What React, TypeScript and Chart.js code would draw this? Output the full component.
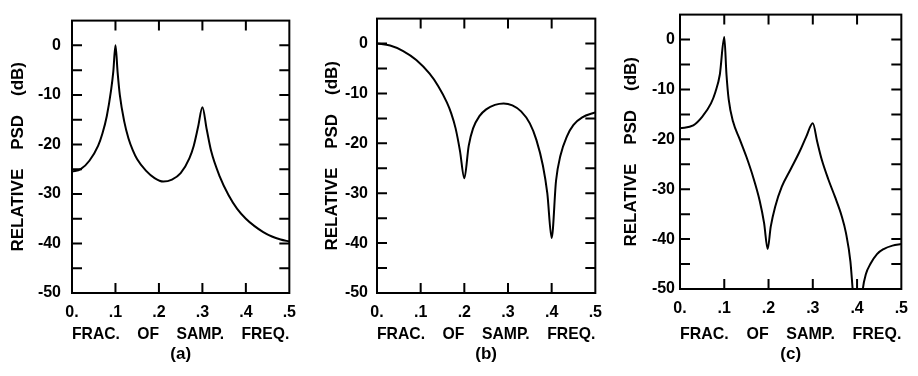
import React, { useEffect, useRef } from 'react';
import { Chart, registerables } from 'chart.js';

Chart.register(...registerables);

// ---- data ----
const aFreq = [0, 0.02, 0.04, 0.06, 0.07, 0.08, 0.09, 0.095, 0.1, 0.105, 0.11, 0.12, 0.13, 0.14, 0.15, 0.17, 0.19, 0.21, 0.23, 0.25, 0.27, 0.28, 0.29, 0.3, 0.31, 0.32, 0.34, 0.36, 0.38, 0.4, 0.42, 0.44, 0.46, 0.48, 0.5];
const aPsd = [-25.5, -25.0, -23.3, -20.3, -17.8, -14.3, -9, -5.3, 0, -5.5, -10, -15.3, -18.8, -21.2, -23, -25.3, -26.8, -27.5, -27.1, -25.8, -22.8, -20.3, -16.5, -12.5, -17, -21.3, -26.5, -30.2, -33, -35, -36.5, -37.7, -38.6, -39.2, -39.6];

const bFreq = [0, 0.03, 0.06, 0.09, 0.12, 0.14, 0.16, 0.17, 0.18, 0.19, 0.2, 0.21, 0.22, 0.235, 0.25, 0.27, 0.29, 0.31, 0.33, 0.35, 0.365, 0.38, 0.39, 0.4, 0.41, 0.42, 0.435, 0.45, 0.47, 0.5];
const bPsd = [0, -0.4, -1.5, -3.3, -6, -8.5, -11.8, -14, -17, -21.5, -27, -20.5, -17, -14.5, -13.2, -12.3, -12, -12.4, -13.6, -16, -19.3, -24.5, -30, -39, -27.5, -22.5, -18.6, -16.3, -14.8, -13.8];

const cFreq = [0, 0.03, 0.05, 0.07, 0.08, 0.09, 0.1, 0.105, 0.11, 0.12, 0.135, 0.15, 0.165, 0.18, 0.19, 0.198, 0.205, 0.215, 0.23, 0.25, 0.27, 0.285, 0.3, 0.31, 0.32, 0.335, 0.35, 0.365, 0.375, 0.385, 0.39, 0.401, 0.413, 0.42, 0.43, 0.445, 0.46, 0.48, 0.5];
const cPsd = [-17.8, -17.2, -15.5, -12.8, -10.5, -7, 0.5, -7, -12, -16.5, -20, -23.5, -27.5, -32.3, -36.8, -42, -37.5, -33.5, -29.5, -26, -22.5, -19.5, -16.8, -20.5, -24, -28, -31.5, -35.3, -38.8, -44.5, -50, -62, -50, -47, -45, -43, -42, -41.3, -41];

const xTickValues = [0, 0.1, 0.2, 0.3, 0.4, 0.5];
const xTickLabels = ['0.', '.1', '.2', '.3', '.4', '.5'];
const yTickValues = [0, -10, -20, -30, -40, -50];
const yTickLabels = ['0', '-10', '-20', '-30', '-40', '-50'];
const xTitle = 'FRAC.    OF    SAMP.    FREQ.';
const yTitle = 'RELATIVE    PSD    (dB)';
const panelTags = ['(a)', '(b)', '(c)'];

const FONT = '"Liberation Sans", Arial, sans-serif';

type PanelCfg = {
  left: number; width: number; yAxisW: number; padRight: number; padTop: number;
  xAxisH: number; yTitlePad: number; yLabelGap: number;
  freq: number[]; psd: number[]; tag: string;
};

const panels: PanelCfg[] = [
  { left: 0, width: 306, yAxisW: 72, padRight: 11, padTop: 13, xAxisH: 83, yTitlePad: 8.5, yLabelGap: 11, freq: aFreq, psd: aPsd, tag: panelTags[0] },
  { left: 306, width: 306, yAxisW: 71, padRight: 10, padTop: 8, xAxisH: 83, yTitlePad: 16.5, yLabelGap: 9, freq: bFreq, psd: bPsd, tag: panelTags[1] },
  { left: 612, width: 306, yAxisW: 68, padRight: 13, padTop: 6, xAxisH: 87, yTitlePad: 9.5, yLabelGap: 5, freq: cFreq, psd: cPsd, tag: panelTags[2] },
];

const boxAndTicks = {
  id: 'boxAndTicks',
  afterDraw(chart: any) {
    const { ctx, chartArea } = chart;
    const { left, right, top, bottom } = chartArea;
    const xs = chart.scales.x;
    const ys = chart.scales.y;
    const len = 10;
    ctx.save();
    ctx.strokeStyle = '#000';
    ctx.lineWidth = 2;
    ctx.strokeRect(left, top, right - left, bottom - top);
    ctx.beginPath();
    ys.ticks.forEach((t: any) => {
      if (t.value <= ys.min || t.value >= ys.max) return;
      const y = ys.getPixelForValue(t.value);
      ctx.moveTo(left, y); ctx.lineTo(left + len, y);
      ctx.moveTo(right, y); ctx.lineTo(right - len, y);
    });
    xs.ticks.forEach((t: any) => {
      if (t.value <= xs.min + 1e-9 || t.value >= xs.max - 1e-9) return;
      const x = xs.getPixelForValue(t.value);
      ctx.moveTo(x, bottom); ctx.lineTo(x, bottom - len);
      ctx.moveTo(x, top); ctx.lineTo(x, top + len);
    });
    ctx.stroke();
    ctx.restore();
  },
};

function Panel({ cfg }: { cfg: PanelCfg }) {
  const ref = useRef<HTMLCanvasElement | null>(null);
  useEffect(() => {
    if (!ref.current) return;
    const chart = new Chart(ref.current, {
      type: 'line',
      data: {
        datasets: [{
          data: cfg.freq.map((f, i) => ({ x: f, y: cfg.psd[i] })),
          borderColor: '#000',
          borderWidth: 2,
          pointRadius: 0,
          cubicInterpolationMode: 'monotone',
          fill: false,
        }],
      },
      options: {
        animation: false,
        responsive: false,
        events: [],
        layout: { padding: { left: 0, top: cfg.padTop, right: cfg.padRight, bottom: 0 } },
        plugins: { legend: { display: false }, tooltip: { enabled: false } },
        scales: {
          x: {
            type: 'linear',
            min: 0, max: 0.5,
            afterFit: (s: any) => { s.height = cfg.xAxisH; },
            afterBuildTicks: (s: any) => { s.ticks = xTickValues.map((v) => ({ value: v })); },
            grid: { display: false, drawTicks: false },
            border: { display: false },
            ticks: {
              color: '#000',
              padding: 10,
              maxRotation: 0,
              autoSkip: false,
              font: { family: FONT, size: 16, weight: 'bold' },
              callback: (_v: any, i: number) => xTickLabels[i],
            },
            title: {
              display: true,
              text: [xTitle, cfg.tag],
              color: '#000',
              font: { family: FONT, size: 17, weight: 'bold', lineHeight: 1.2 },
              padding: { top: 0, bottom: 11 },
            },
          },
          y: {
            type: 'linear',
            min: -50, max: 5,
            afterFit: (s: any) => { s.width = cfg.yAxisW; },
            ticks: {
              stepSize: 5,
              color: '#000',
              padding: cfg.yLabelGap,
              autoSkip: false,
              font: { family: FONT, size: 16, weight: 'bold' },
              callback: (v: any) => {
                const i = yTickValues.indexOf(Math.round(Number(v)));
                return i >= 0 ? yTickLabels[i] : '';
              },
            },
            grid: { display: false, drawTicks: false },
            border: { display: false },
            title: {
              display: true,
              text: yTitle,
              color: '#000',
              font: { family: FONT, size: 17, weight: 'bold', lineHeight: 1.2 },
              padding: { top: cfg.yTitlePad, bottom: 0 },
            },
          },
        },
      },
      plugins: [boxAndTicks],
    } as any);
    return () => chart.destroy();
  }, [cfg]);
  return (
    <div style={{ position: 'absolute', left: cfg.left, top: 0, width: cfg.width, height: 376 }}>
      <canvas ref={ref} width={cfg.width} height={376} style={{ width: cfg.width, height: 376, display: 'block' }} />
    </div>
  );
}

export default function App() {
  return (
    <div style={{ position: 'absolute', left: 0, top: 0, width: 918, height: 376, background: '#fff', overflow: 'hidden' }}>
      {panels.map((p) => <Panel key={p.tag} cfg={p} />)}
    </div>
  );
}
